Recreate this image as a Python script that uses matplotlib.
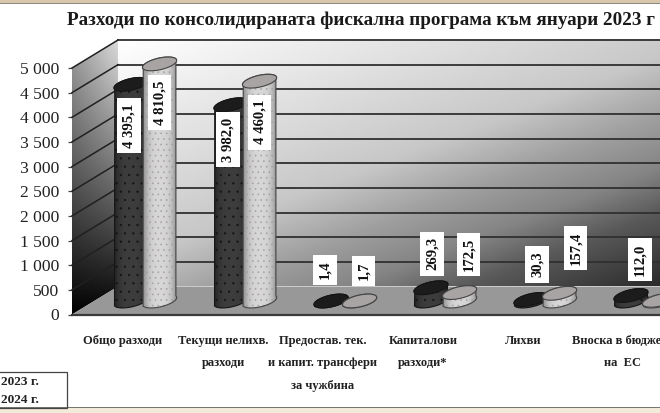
import numpy as np
import matplotlib
matplotlib.use("Agg")
import matplotlib.pyplot as plt
from matplotlib.patches import PathPatch, Polygon, Rectangle
from matplotlib.path import Path
from matplotlib.transforms import Affine2D

# ---------- data ----------
categories = ["Общо разходи", "Текущи нелихв.\nразходи",
              "Предостав. тек.\nи капит. трансфери\nза чужбина",
              "Капиталови\nразходи*", "Лихви", "Вноска в бюджета\nна  ЕС"]
values_2023 = [4395.1, 3982.0, 1.4, 269.3, 30.3, 112.0]
values_2024 = [4810.5, 4460.1, 1.7, 172.5, 157.4, 15.0]
labels_2023 = ["4 395,1", "3 982,0", "1,4", "269,3", "30,3", "112,0"]
labels_2024 = ["4 810,5", "4 460,1", "1,7", "172,5", "157,4", ""]
yticks = [0, 500, 1000, 1500, 2000, 2500, 3000, 3500, 4000, 4500, 5000]
ytick_labels = ["0", "500", "1 000", "1 500", "2 000", "2 500", "3 000",
                "3 500", "4 000", "4 500", "5 000"]
title = "Разходи по консолидираната фискална програма към януари 2023 г"
legend_years = ["2023 г.", "2024 г."]

# label offsets from the top of each cylinder, pixels
offsets_2023 = [(-2, -41), (-3, -35), (-6, 31), (1, 34), (6, 35), (9, 36)]
offsets_2024 = [(0, -39), (0, -41), (4, 30), (9, 38), (16, 45), (0, 0)]

W, H = 660, 413
SERIF = "Liberation Serif"
fig = plt.figure(figsize=(W / 100, H / 100), dpi=100, facecolor="white")
L, R, B, T = 72, 660, 314.5, 68
ax = fig.add_axes([L / W, 1 - B / H, (R - L) / W, (B - T) / H])
ax.patch.set_visible(False)
ax.set_xlim((L - 123) / 100, (R - 123) / 100)
ax.set_ylim(0, 5000)
PX_X = 0.01
PX_Y = 5000 / (B - T)
DEPTH_X, DEPTH_Y = 46, 28


def depth(d):
    return ax.transData + Affine2D().translate(DEPTH_X * d, DEPTH_Y * d)


x0, x1 = ax.get_xlim()

# back wall
gx, gy = np.meshgrid(np.linspace(0, 1, 200), np.linspace(0, 1, 120))
t_ramp = 0.55 * gx + 0.6 * gy
back = np.interp(t_ramp, [0, 0.55, 0.7, 0.82, 0.93, 1.15],
                 [1.0, 0.78, 0.62, 0.52, 0.35, 0.13])
ax.imshow(back, cmap="gray", vmin=0, vmax=1, aspect="auto", origin="upper",
          extent=(x0, x1, 0, 5000), transform=depth(1), clip_on=False, zorder=1,
          interpolation="bilinear")
# left wall
gx, gy = np.meshgrid(np.linspace(0, 1, 60), np.linspace(0, 1, 200))
left = np.clip(0.62 * (1 - gy) ** 0.9 + 0.24 * gx * (1 - gy), 0, 1)
ppx = DEPTH_X * PX_X
ppy = DEPTH_Y * PX_Y
im = ax.imshow(left, cmap="gray", vmin=0, vmax=1, aspect="auto", origin="upper",
               extent=(x0, x0 + ppx, 0, 5000 + ppy), zorder=1,
               interpolation="bilinear")
wall = Polygon([(x0, 0), (x0 + ppx, ppy), (x0 + ppx, 5000 + ppy), (x0, 5000)],
               closed=True, transform=ax.transData, fill=False, lw=0)
ax.add_patch(wall)
wall.set_clip_on(False)
im.set_clip_box(fig.bbox)
im.set_clip_path(wall)
# floor
floor = Polygon([(x0, 0), (x0 + ppx, ppy), (x1 + ppx, ppy), (x1, 0)], closed=True,
                facecolor="#989898", edgecolor="none", zorder=1.5, clip_on=False)
ax.add_patch(floor)
ax.set_xlim(x0, x1)
ax.set_ylim(0, 5000)

# grid
for v in yticks[1:]:
    ax.plot([x0, x1], [v, v], transform=depth(1), color="#303030", lw=1.3,
            clip_on=False, zorder=2)
    ax.plot([x0, x0 + ppx], [v, v + ppy], color="#202020", lw=1.1,
            clip_on=False, zorder=2)


def ellipse_xy(cx, cy, a=17.5, b=5.8, tilt=13, start=0, stop=360, n=60):
    th = np.radians(np.linspace(start, stop, n))
    t = np.radians(tilt)
    dx = a * np.cos(th) * np.cos(t) - b * np.sin(th) * np.sin(t)
    dy = a * np.cos(th) * np.sin(t) + b * np.sin(th) * np.cos(t)
    return cx + dx * PX_X, cy + dy * PX_Y


def cylinder(xc, v, low, high, top, edge, hatch_col, hatch, z):
    tr = depth(0.48)
    xb, yb = ellipse_xy(xc, 0, start=190, stop=373)
    xt, yt = ellipse_xy(xc, v, start=13, stop=193)
    xy = np.column_stack([np.r_[xb, xt], np.r_[yb, yt]])
    body = PathPatch(Path(np.vstack([xy, xy[0]]), closed=True),
                     facecolor="none", edgecolor="none", transform=tr, zorder=z)
    ax.add_patch(body)
    body.set_clip_on(False)
    s = np.linspace(-1, 1, 40)
    grad = (low + (high - low) * (1 - np.abs(s) ** 3)).reshape(1, -1)
    bx0, bx1 = xc - 18 * PX_X, xc + 18 * PX_X
    by0, by1 = -12 * PX_Y, v + 12 * PX_Y
    im = ax.imshow(grad, cmap="gray", vmin=0, vmax=1, aspect="auto",
                   extent=(bx0, bx1, by0, by1), transform=tr, zorder=z,
                   interpolation="bilinear")
    im.set_clip_box(fig.bbox)
    im.set_clip_path(body)
    dots = PathPatch(Path(np.vstack([xy, xy[0]]), closed=True), facecolor="none",
                     edgecolor=hatch_col, hatch=hatch, lw=0, transform=tr, zorder=z,
                     clip_on=False)
    ax.add_patch(dots)
    outline = PathPatch(Path(np.vstack([xy, xy[0]]), closed=True), facecolor="none",
                        edgecolor=edge, lw=0.8, transform=tr, zorder=z, clip_on=False)
    ax.add_patch(outline)
    ex, ey = ellipse_xy(xc, v)
    ax.add_patch(Polygon(np.column_stack([ex, ey]), closed=True, facecolor=top,
                         edgecolor=edge, lw=0.8, transform=tr, zorder=z + 0.1,
                         clip_on=False))


plt.rcParams["hatch.linewidth"] = 0.4
for i in range(len(categories)):
    cylinder(i - 0.14, values_2023[i], 0.12, 0.24, "#1c1c1c", "#151515",
             "#141414", "..", 3 + i)
    cylinder(i + 0.145, values_2024[i], 0.5, 0.84, "#a8a4a4", "#444444",
             "#a89e9e", "...", 3.5 + i)

# value labels
for i in range(len(categories)):
    for xo, val, lab, off in ((i - 0.14, values_2023[i], labels_2023[i], offsets_2023[i]),
                              (i + 0.145, values_2024[i], labels_2024[i], offsets_2024[i])):
        if not lab:
            continue
        ax.annotate(lab, xy=(xo, val), xycoords=depth(0.48), xytext=off,
                    textcoords="offset pixels", rotation=90, ha="center", va="center",
                    family=SERIF, fontweight="bold", fontsize=10.6, color="#111111",
                    bbox=dict(boxstyle="square,pad=0.36", fc="white", ec="none"),
                    zorder=20, annotation_clip=False)

# axes furniture
for name, sp in ax.spines.items():
    sp.set_visible(name == "bottom")
ax.spines["bottom"].set_color("#3a3a3a")
ax.spines["bottom"].set_linewidth(1.6)
ax.spines["bottom"].set_zorder(2.5)
ax.set_yticks(yticks, ytick_labels, family=SERIF, fontsize=12.6, color="#222222")
ax.tick_params(axis="y", length=3.2, width=0.9, color="#444444", pad=6)
ax.set_xticks(range(len(categories)))
ax.set_xticklabels(categories, family=SERIF, fontweight="bold", fontsize=9.0,
                   color="#222222", linespacing=2.2)
ax.tick_params(axis="x", length=0, pad=14.5)
for t in ax.get_xticklabels():
    t.set_clip_on(False)

# figure furniture
def px_rect(x, y, w, h, **kw):
    fig.add_artist(Rectangle((x / W, 1 - (y + h) / H), w / W, h / H,
                             transform=fig.transFigure, **kw))


px_rect(0, 0, W, 2.6, fc="#d9c6ab", ec="none")
px_rect(0, 2.6, W, 1.2, fc="#8a8a80", ec="none")
px_rect(0, 407, W, 1.2, fc="#777770", ec="none")
px_rect(0, 408.2, W, 5, fc="#f3ebd9", ec="none")
px_rect(-2, 372, 69, 36, fc="none", ec="#444444", lw=0.9)
fig.text(1 / W, 1 - 382 / H, legend_years[0], family=SERIF, fontweight="bold",
         fontsize=9.6, va="center", color="#222222")
fig.text(1 / W, 1 - 400 / H, legend_years[1], family=SERIF, fontweight="bold",
         fontsize=9.6, va="center", color="#222222")
fig.text(67 / W, 1 - 20 / H, title, family=SERIF, fontweight="bold", fontsize=13.75,
         va="center", color="#1a1a1a")

fig.savefig("out.png", dpi=100, facecolor="white")
